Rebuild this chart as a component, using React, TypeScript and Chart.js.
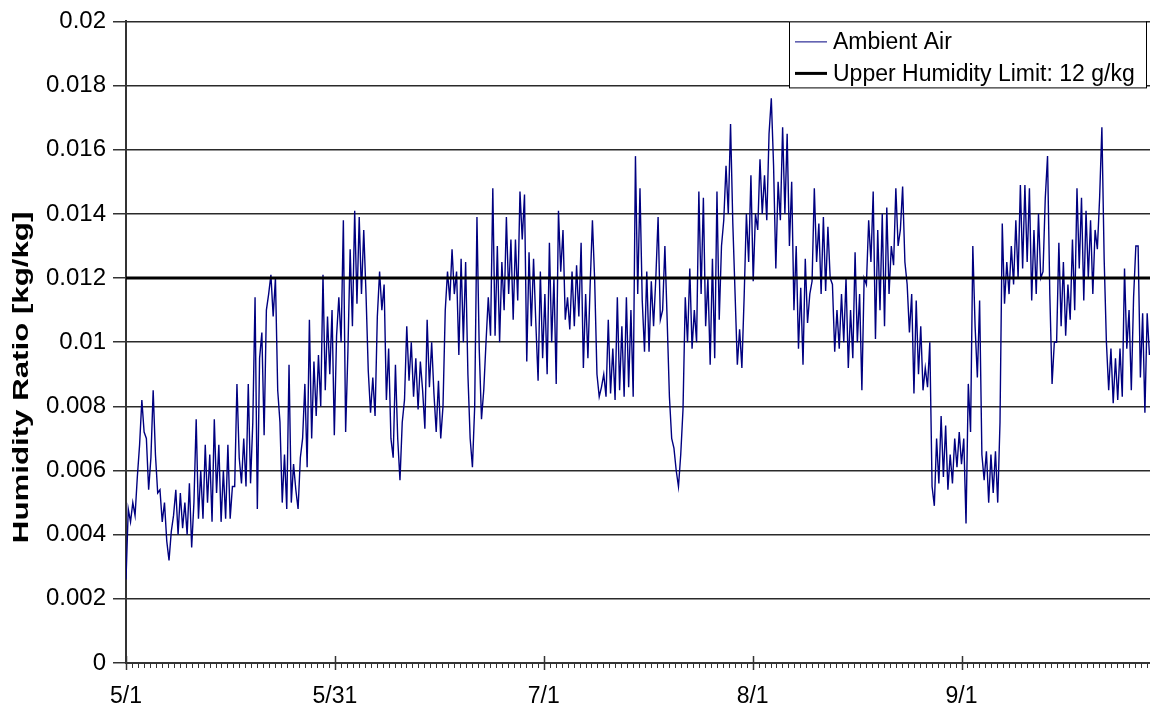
import React, { useEffect, useRef } from 'react';
import { Chart, registerables } from 'chart.js';

Chart.register(...registerables);

// Hourly-ish ambient humidity ratio in g/kg, 3 readings per day
const samplesPerDay = 3;

const mayValues = [
  2.6, 4.8, 4.4, 5.0, 4.6, 5.8, 6.8, 8.2, 7.2, 7.0, 5.4, 6.4, 8.5, 6.5, 5.3,
  5.4, 4.4, 5.0, 3.8, 3.2, 4.1, 4.6, 5.4, 4.0, 5.3, 4.2, 5.0, 4.0, 5.6, 3.6,
  5.0, 7.6, 4.5, 6.0, 4.5, 6.8, 5.0, 6.5, 4.4, 7.6, 5.3, 6.8, 4.4, 6.0, 4.5,
  6.8, 4.5, 5.5, 5.5, 8.7, 6.4, 5.6, 7.0, 5.5, 8.7, 5.6, 7.5, 11.4, 4.8, 9.5,
  10.3, 7.1, 11.0, 11.5, 12.1, 10.8, 12.0, 8.5, 7.5, 5.0, 6.5, 4.8, 9.3, 5.0, 6.2,
  5.4, 4.8, 6.4, 7.0, 8.7, 6.1, 10.7, 7.0, 9.4, 7.7, 9.6, 8.0, 12.1, 8.5, 10.8,
  9.0, 11.0, 7.1,
];

const juneValues = [
  10.2, 11.4, 10.0, 13.8, 7.2, 9.7, 12.9, 10.5, 14.1, 11.2, 13.9, 11.5, 13.5, 11.5, 9.1,
  7.8, 8.9, 7.7, 10.8, 12.2, 11.0, 11.8, 8.2, 9.8, 7.0, 6.4, 9.3, 7.0, 5.7, 7.5,
  8.2, 10.5, 8.8, 10.0, 8.3, 9.5, 7.9, 9.4, 8.5, 7.3, 10.7, 8.6, 10.0, 8.4, 7.2,
  8.8, 7.0, 8.0, 11.0, 12.2, 11.3, 12.9, 11.5, 12.2, 9.6, 12.6, 10.0, 12.5, 9.0, 7.0,
  6.1, 8.0, 13.9, 9.8, 7.6, 8.5, 10.0, 11.4, 10.2, 14.8, 10.2, 13.0, 10.0, 12.5, 11.0,
  13.9, 11.5, 13.2, 10.7, 13.2, 11.3, 14.7, 13.2, 14.6, 9.4, 12.8, 10.5, 12.6, 10.6, 8.8,
];

const julyValues = [
  12.2, 9.5, 11.5, 9.0, 13.1, 10.0, 12.0, 8.7, 14.1, 12.2, 13.5, 10.7, 11.4, 10.4, 12.2,
  10.5, 12.4, 10.8, 13.1, 9.2, 11.5, 9.5, 11.8, 13.8, 11.9, 9.0, 8.3, 8.6, 9.0, 8.3,
  10.7, 8.4, 9.8, 8.2, 11.4, 8.5, 10.5, 8.3, 11.4, 8.6, 11.0, 8.3, 15.8, 11.5, 14.8,
  11.3, 9.7, 12.2, 9.7, 11.9, 10.5, 12.0, 13.9, 10.7, 11.0, 13.0, 10.7, 8.3, 7.0, 6.7,
  6.0, 5.5, 6.5, 7.9, 11.4, 10.0, 12.3, 9.8, 11.0, 10.0, 14.7, 11.5, 14.5, 10.5, 12.0,
  9.3, 12.6, 9.5, 14.7, 10.7, 13.0, 13.8, 15.5, 14.0, 16.8, 13.7, 11.5, 9.3, 10.4, 9.2,
  11.4, 14.0, 12.5,
];

const augustValues = [
  15.2, 11.9, 14.0, 13.5, 15.7, 14.0, 15.2, 13.8, 16.5, 17.6, 15.5, 12.3, 15.0, 13.8, 16.7,
  14.0, 16.5, 13.0, 15.0, 11.0, 13.0, 9.8, 11.7, 9.3, 12.6, 10.6, 11.5, 11.9, 14.8, 12.5,
  13.7, 11.5, 13.9, 11.6, 13.6, 12.0, 11.8, 9.7, 11.0, 9.8, 11.5, 10.0, 12.0, 9.2, 11.0,
  9.5, 12.8, 10.0, 11.5, 8.5, 12.0, 11.8, 13.8, 12.5, 14.7, 10.1, 13.5, 11.0, 14.0, 10.5,
  14.2, 11.5, 13.0, 12.4, 14.8, 13.0, 13.5, 14.85, 12.5, 11.8, 10.3, 11.5, 8.4, 11.3, 9.0,
  10.5, 8.5, 9.2, 8.6, 10.0, 5.5, 4.9, 7.0, 5.6, 7.7, 5.8, 7.4, 5.4, 6.5, 5.6,
  7.0, 6.1, 7.2,
];

const septemberValues = [
  6.2, 7.0, 4.35, 8.7, 7.2, 13.0, 10.5, 8.9, 11.3, 6.5, 5.7, 6.6, 5.0, 6.5, 5.3,
  6.6, 5.0, 7.5, 13.7, 11.2, 12.5, 11.5, 13.0, 11.8, 13.8, 12.0, 14.9, 12.3, 14.9, 12.5,
  14.8, 11.3, 13.5, 11.5, 14.0, 12.0, 12.2, 14.5, 15.8, 11.5, 8.7, 10.0, 10.0, 13.1, 10.5,
  12.5, 10.2, 11.8, 10.7, 13.2, 11.0, 14.8, 12.3, 14.5, 11.3, 14.1, 12.0, 13.8, 11.5, 13.5,
  12.9, 14.5, 16.7, 12.6, 10.0, 8.5, 9.8, 8.1, 9.5, 8.2, 9.8, 8.3, 12.3, 9.8, 11.0,
  8.5, 11.4, 13.0, 13.0, 8.9, 10.9, 7.8, 10.9, 9.6,
];

const ambientGkg = [
  ...mayValues,
  ...juneValues,
  ...julyValues,
  ...augustValues,
  ...septemberValues,
];

const limitValue = 0.012; // kg/kg (12 g/kg)

const xMaxDays = 150.75;
const xTickDays = [0, 30.75, 61.5, 92.25, 123];
const xTickLabels = ['5/1', '5/31', '7/1', '8/1', '9/1'];
const minorPerMajor = 35;

const yTickValues = [0, 0.002, 0.004, 0.006, 0.008, 0.01, 0.012, 0.014, 0.016, 0.018, 0.02];
const yTickLabels = ['0', '0.002', '0.004', '0.006', '0.008', '0.01', '0.012', '0.014', '0.016', '0.018', '0.02'];

const yTitle = 'Humidity Ratio [kg/kg]';
const legendLabels = ['Ambient Air', 'Upper Humidity Limit: 12 g/kg'];

const FONT = "'Liberation Sans', Arial, Helvetica, sans-serif";

const decorPlugin = {
  id: 'decor',
  afterDraw(chart: any) {
    const ctx = chart.ctx as CanvasRenderingContext2D;
    const area = chart.chartArea;
    const xs = chart.scales.x;

    // x-axis tick marks (major cross, minor below)
    ctx.save();
    ctx.strokeStyle = '#333';
    ctx.lineWidth = 1;
    const step = xTickDays[1] / minorPerMajor;
    for (let k = 0; k * step <= xMaxDays + 1e-9; k++) {
      const px = Math.round(xs.getPixelForValue(k * step)) + 0.5;
      ctx.beginPath();
      ctx.moveTo(px, area.bottom);
      ctx.lineTo(px, area.bottom + 5);
      ctx.stroke();
    }
    ctx.lineWidth = 1.5;
    for (const d of xTickDays) {
      const px = Math.round(xs.getPixelForValue(d)) + 0.5;
      ctx.beginPath();
      ctx.moveTo(px, area.bottom - 7);
      ctx.lineTo(px, area.bottom + 7);
      ctx.stroke();
    }
    ctx.restore();

    // legend
    ctx.save();
    const bw = 357;
    const bh = 66;
    const bx = area.right - 4 - bw;
    const by = area.top;
    ctx.fillStyle = '#fff';
    ctx.fillRect(bx, by, bw, bh);
    ctx.strokeStyle = '#000';
    ctx.lineWidth = 1;
    ctx.strokeRect(bx + 0.5, by + 0.5, bw, bh);
    ctx.font = `23px ${FONT}`;
    ctx.fillStyle = '#000';
    ctx.textBaseline = 'middle';
    ctx.textAlign = 'left';
    const rows = [by + 20, by + 52];
    ctx.strokeStyle = '#000080';
    ctx.lineWidth = 1;
    ctx.beginPath();
    ctx.moveTo(bx + 6, rows[0] + 0.5);
    ctx.lineTo(bx + 38, rows[0] + 0.5);
    ctx.stroke();
    ctx.strokeStyle = '#000';
    ctx.lineWidth = 3;
    ctx.beginPath();
    ctx.moveTo(bx + 6, rows[1]);
    ctx.lineTo(bx + 38, rows[1]);
    ctx.stroke();
    ctx.fillText(legendLabels[0], bx + 44, rows[0] + 1);
    ctx.fillText(legendLabels[1], bx + 44, rows[1] + 1);
    ctx.restore();

    // y-axis title
    ctx.save();
    ctx.translate(22, area.top + 356);
    ctx.rotate(-Math.PI / 2);
    ctx.scale(1.42, 1);
    ctx.font = `bold 22px ${FONT}`;
    ctx.fillStyle = '#000';
    ctx.textAlign = 'center';
    ctx.textBaseline = 'middle';
    ctx.fillText(yTitle, 0, 0);
    ctx.restore();
  },
};

export default function App() {
  const ref = useRef<HTMLCanvasElement>(null);

  useEffect(() => {
    document.body.style.margin = '0';
    const canvas = ref.current;
    if (!canvas) return;
    const points = ambientGkg.map((v, i) => ({ x: i / samplesPerDay, y: v / 1000 }));
    const limitPoints = [
      { x: 0, y: limitValue },
      { x: xMaxDays, y: limitValue },
    ];
    const chart = new Chart(canvas, {
      type: 'line',
      data: {
        datasets: [
          {
            label: legendLabels[1],
            data: limitPoints,
            borderColor: '#000',
            backgroundColor: '#000',
            borderWidth: 3,
            pointRadius: 0,
            order: 0,
          },
          {
            label: legendLabels[0],
            data: points,
            borderColor: '#000080',
            backgroundColor: '#000080',
            borderWidth: 1.4,
            pointRadius: 0,
            tension: 0,
            order: 1,
          },
        ],
      },
      options: {
        responsive: false,
        animation: false,
        events: [],
        parsing: false as any,
        layout: { padding: { top: 21, right: 0, bottom: 0, left: 0 } },
        plugins: {
          legend: { display: false },
          tooltip: { enabled: false },
          title: { display: false },
        },
        scales: {
          x: {
            type: 'linear',
            min: 0,
            max: xMaxDays,
            afterBuildTicks: (s: any) => {
              s.ticks = xTickDays.map((v) => ({ value: v }));
            },
            afterFit: (s: any) => {
              s.height = 43;
            },
            grid: { display: false, drawTicks: false },
            border: { display: true, color: '#333', width: 2 },
            ticks: {
              autoSkip: false,
              maxRotation: 0,
              padding: 20,
              color: '#000',
              font: { family: FONT, size: 23 },
              callback: (_v: any, i: number) => xTickLabels[i],
            },
          },
          y: {
            min: 0,
            max: 0.02,
            afterBuildTicks: (s: any) => {
              s.ticks = yTickValues.map((v) => ({ value: v }));
            },
            afterFit: (s: any) => {
              s.width = 126;
            },
            grid: { color: '#2a2a2a', lineWidth: 1.5, tickLength: 13, tickColor: '#333' },
            border: { display: true, color: '#333', width: 2 },
            ticks: {
              padding: 7,
              color: '#000',
              font: { family: FONT, size: 24 },
              callback: (_v: any, i: number) => yTickLabels[i],
            },
          },
        },
      },
      plugins: [decorPlugin],
    });
    return () => chart.destroy();
  }, []);

  return (
    <div style={{ width: 1150, height: 706, background: '#fff' }}>
      <canvas ref={ref} width={1150} height={706} style={{ display: 'block' }} />
    </div>
  );
}
